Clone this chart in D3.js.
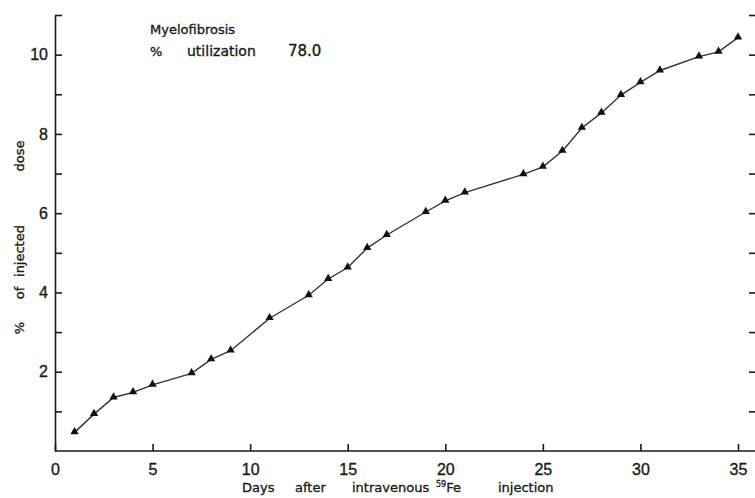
<html>
<head>
<meta charset="utf-8">
<script src="https://cdn.jsdelivr.net/npm/d3@7"></script>
<style>
  body { margin: 0; background: #fff; }
  svg { font-family: "DejaVu Sans", sans-serif; }
  svg text { stroke: #1a1a1a; stroke-width: 0.35; }
  .axis path, .axis line { stroke: #1a1a1a; stroke-width: 1.6; }
  .axis text { fill: #1a1a1a; font-size: 16px; }
</style>
</head>
<body>
<div id="chart"></div>
<script>
// days after injection and % of injected dose
var days   = [1, 2, 3, 4, 5, 7, 8, 9, 11, 13, 14, 15, 16, 17, 19, 20, 21, 24, 25, 26, 27, 28, 29, 30, 31, 33, 34, 35];
var values = [0.47, 0.93, 1.35, 1.48, 1.67, 1.96, 2.31, 2.53, 3.35, 3.93, 4.34, 4.63, 5.12, 5.45, 6.03, 6.31, 6.52, 6.98, 7.17, 7.57, 8.15, 8.53, 8.98, 9.3, 9.6, 9.95, 10.07, 10.43];
var xTicks = [0, 5, 10, 15, 20, 25, 30, 35];
var yTicks = [1, 2, 3, 4, 5, 6, 7, 8, 9, 10, 11];
var yLabelled = [2, 4, 6, 8, 10];
var noteLines = ["Myelofibrosis", "% utilization 78.0"];

var W = 755, H = 498;
var svg = d3.select("#chart").append("svg").attr("width", W).attr("height", H);

var x = d3.scaleLinear().domain([0, 35]).range([55, 738]);
var y = d3.scaleLinear().domain([0, 11]).range([451, 15]);

// left axis, ticks pointing inward
var yAxis = d3.axisLeft(y).tickValues(yTicks).tickSize(-7).tickSizeOuter(0).tickPadding(7)
  .tickFormat(function(d){ return yLabelled.indexOf(d) >= 0 ? d : ""; });
svg.append("g").attr("class", "axis").attr("transform", "translate(" + x(0) + ",0)").call(yAxis);

// bottom axis
var xAxis = d3.axisBottom(x).tickValues(xTicks).tickSize(-7).tickSizeOuter(0).tickPadding(13);
var gx = svg.append("g").attr("class", "axis").attr("transform", "translate(0," + y(0) + ")").call(xAxis);
gx.select(".domain").remove();
gx.append("line").attr("x1", x(0)).attr("x2", W).attr("y1", 0).attr("y2", 0);

// right axis (its line is cut off at the edge)
var yRight = d3.axisRight(y).tickValues(yTicks).tickSize(-7).tickFormat("");
var gr = svg.append("g").attr("class", "axis").attr("transform", "translate(" + (W + 1) + ",0)").call(yRight);
gr.select(".domain").remove();

// curve
var pts = days.map(function(d, i){ return [d, values[i]]; });
var line = d3.line().x(function(d){ return x(d[0]); }).y(function(d){ return y(d[1]); });
svg.append("path").datum(pts).attr("d", line)
  .style("fill", "none").style("stroke", "#333").style("stroke-width", 1.4);

svg.selectAll(".pt").data(pts).enter().append("path").attr("class", "pt")
  .attr("d", d3.symbol(d3.symbolTriangle, 30))
  .attr("transform", function(d){ return "translate(" + x(d[0]) + "," + (y(d[1]) - 0.5) + ")"; })
  .style("fill", "#111");

// note in the upper left
var note = svg.append("g").style("font-size", "13px").style("fill", "#1a1a1a");
note.append("text").attr("x", 150).attr("y", 34).text(noteLines[0]);
var n2 = note.append("text").attr("y", 56);
n2.append("tspan").attr("x", 150).text("%");
n2.append("tspan").attr("x", 187).style("font-size", "14px").text("utilization");
n2.append("tspan").attr("x", 288).style("font-size", "15px").text("78.0");

// x axis title
var xt = svg.append("text").attr("y", 492).style("font-size", "13px").style("fill", "#1a1a1a");
xt.append("tspan").attr("x", 242).text("Days");
xt.append("tspan").attr("x", 295).text("after");
xt.append("tspan").attr("x", 352).text("intravenous");
xt.append("tspan").attr("x", 436).attr("dy", -5).style("font-size", "8px").text("59");
xt.append("tspan").attr("dy", 5).text("Fe");
xt.append("tspan").attr("x", 498).text("injection");

// y axis title
var yt = svg.append("text").attr("transform", "translate(24,0) rotate(-90)")
  .style("font-size", "13px").style("fill", "#1a1a1a").style("text-anchor", "middle");
[["%", 328], ["of", 293], ["injected", 251], ["dose", 156]].forEach(function(w){
  yt.append("tspan").attr("x", -w[1]).text(w[0]);
});
</script>
</body>
</html>
